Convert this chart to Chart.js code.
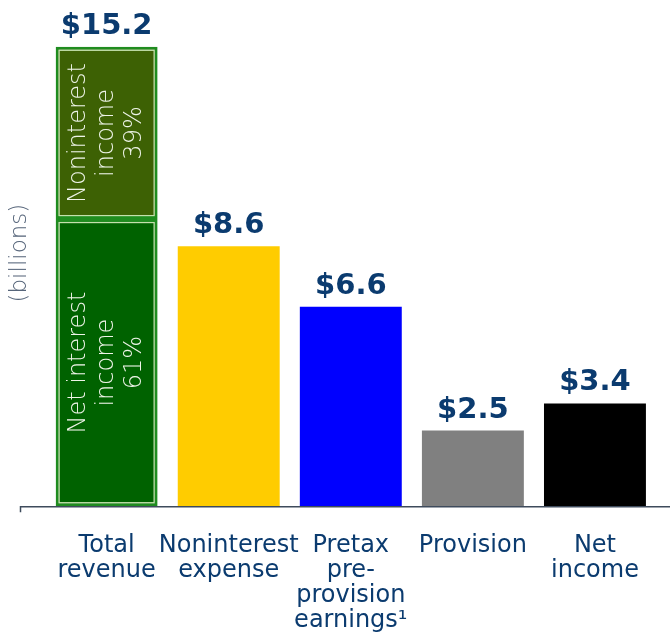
<!DOCTYPE html>
<html>
<head>
<meta charset="utf-8">
<script src="https://cdn.jsdelivr.net/npm/chart.js@4.4.1/dist/chart.umd.min.js"></script>
<style>
  html, body { margin: 0; padding: 0; background: #fff; }
</style>
</head>
<body>
<canvas id="chart" width="670" height="639"></canvas>
<script>
// categories along the bottom
var categories = [
    ['Total', 'revenue'],
    ['Noninterest', 'expense'],
    ['Pretax', 'pre-', 'provision', 'earnings\u00b9'],
    ['Provision'],
    ['Net', 'income']
];
// total revenue split (billions)
var netInterestIncome = [9.5, null, null, null, null];
var noninterestIncome = [5.7, null, null, null, null];
// the other bars (billions)
var otherValues = [null, 8.6, 6.6, 2.5, 3.4];
var valueLabels = ['$15.2', '$8.6', '$6.6', '$2.5', '$3.4'];
// text written inside the revenue segments
var netInterestText = ['Net interest', 'income', '61%'];
var noninterestText = ['Noninterest', 'income', '39%'];

var NAVY = '#0b3b6f';

/*
 * Draws the axis line, the inner frame + text of revenue segments and the value labels
 */
var barDecor = {
    id: 'barDecor',
    afterDatasetsDraw: function(chart) {
        var ctx = chart.ctx;
        var area = chart.chartArea;
        ctx.save();

        // base line with small tick at the left end
        ctx.strokeStyle = '#3e4b5c';
        ctx.lineWidth = 1.5;
        ctx.beginPath();
        ctx.moveTo(20.5, area.bottom + 6);
        ctx.lineTo(20.5, area.bottom + 0.5);
        ctx.lineTo(chart.width, area.bottom + 0.5);
        ctx.stroke();

        // revenue segments: pale inner frame and rotated text
        var texts = [netInterestText, noninterestText];
        [0, 1].forEach(function(d) {
            var bar = chart.getDatasetMeta(d).data[0];
            var left = bar.x - bar.width / 2;
            var top = Math.min(bar.y, bar.base);
            var bottom = Math.max(bar.y, bar.base);
            ctx.strokeStyle = '#c4e0ad';
            ctx.lineWidth = 1.2;
            ctx.strokeRect(left + 3.5, top + 3.5, bar.width - 7, bottom - top - 7);

            ctx.save();
            ctx.translate(bar.x, (top + bottom) / 2);
            ctx.rotate(-Math.PI / 2);
            ctx.fillStyle = '#eef4e8';
            ctx.font = '200 24px "DejaVu Sans"';
            ctx.textAlign = 'center';
            ctx.textBaseline = 'middle';
            var lines = texts[d];
            for (let k = 0; k < lines.length; k++) {
                ctx.fillText(lines[k], 0, (k - (lines.length - 1) / 2) * 28);
            }
            ctx.restore();
        });

        // value labels above each bar
        ctx.fillStyle = NAVY;
        ctx.font = 'bold 29px "DejaVu Sans"';
        ctx.textAlign = 'center';
        ctx.textBaseline = 'alphabetic';
        for (let i = 0; i < categories.length; i++) {
            var topY = null, xPos = null;
            chart.data.datasets.forEach(function(ds, d) {
                if (ds.data[i] === null) return;
                var el = chart.getDatasetMeta(d).data[i];
                if (topY === null || el.y < topY) { topY = el.y; xPos = el.x; }
            });
            ctx.fillText(valueLabels[i], xPos, topY - 13);
        }
        ctx.restore();
    }
};

var ctx = document.getElementById('chart').getContext('2d');
var chart = new Chart(ctx, {
    type: 'bar',
    data: {
        labels: categories,
        datasets: [{
            label: 'Net interest income',
            data: netInterestIncome,
            backgroundColor: '#006200',
            borderColor: '#1f8c1f',
            borderWidth: 3,
            borderSkipped: false
        }, {
            label: 'Noninterest income',
            data: noninterestIncome,
            backgroundColor: '#3d6104',
            borderColor: '#1f8c1f',
            borderWidth: 3,
            borderSkipped: false
        }, {
            label: 'Other',
            data: otherValues,
            backgroundColor: ['#000', '#ffcc00', '#0000ff', '#808080', '#000000'],
            borderWidth: 0
        }]
    },
    options: {
        responsive: false,
        animation: false,
        layout: {
            padding: { left: 0, right: 14, top: 0, bottom: -21 }
        },
        datasets: {
            bar: { barPercentage: 0.835, categoryPercentage: 1 }
        },
        plugins: {
            legend: { display: false },
            tooltip: { enabled: false }
        },
        scales: {
            x: {
                stacked: true,
                grid: { display: false, drawTicks: false },
                border: { display: false },
                ticks: {
                    padding: 27,
                    maxRotation: 0,
                    autoSkip: false,
                    color: NAVY,
                    font: { family: '"DejaVu Sans"', size: 24, lineHeight: 1.04 }
                }
            },
            y: {
                stacked: true,
                min: 0,
                max: 16.75,
                grid: { display: false, drawTicks: false },
                border: { display: false },
                ticks: { display: false },
                title: {
                    display: true,
                    text: '(billions)',
                    color: '#56657a',
                    padding: { top: 6, bottom: 12 },
                    font: { family: '"DejaVu Sans"', size: 23, weight: '200' }
                }
            }
        }
    },
    plugins: [barDecor]
});
</script>
</body>
</html>
